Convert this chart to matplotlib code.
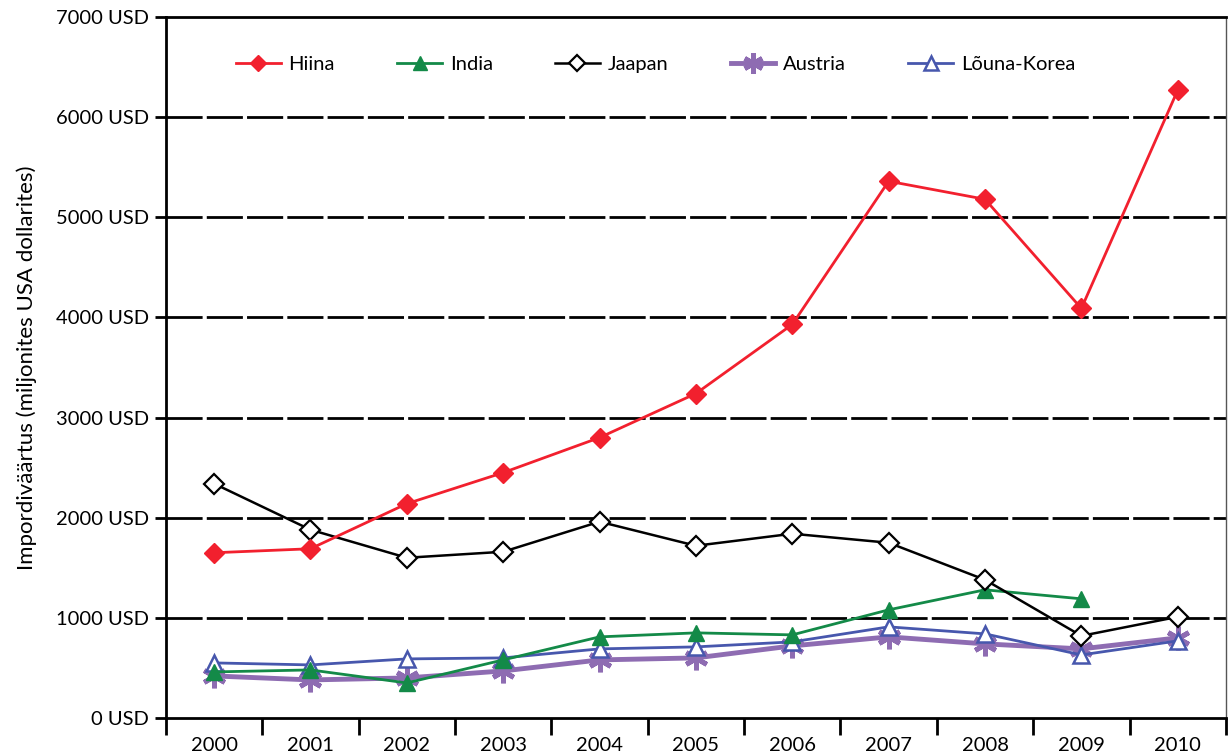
import numpy as np
import matplotlib
matplotlib.use("Agg")
from matplotlib import pyplot as plt

plt.rcParams['font.family'] = ['Lato', 'DejaVu Sans']

years = ['2000', '2001', '2002', '2003', '2004', '2005', '2006', '2007', '2008', '2009', '2010']
hiina = [1650, 1690, 2140, 2450, 2800, 3240, 3930, 5360, 5180, 4090, 6270]
india = [460, 480, 350, 580, 810, 850, 830, 1080, 1280, 1190, np.nan]
jaapan = [2340, 1880, 1600, 1660, 1960, 1720, 1840, 1750, 1380, 820, 1010]
austria = [420, 380, 400, 470, 580, 600, 720, 810, 740, 690, 800]
korea = [550, 530, 590, 600, 690, 710, 760, 910, 840, 630, 770]
yticks = [0, 1000, 2000, 3000, 4000, 5000, 6000, 7000]
ylabel = 'Impordiväärtus (miljonites USA dollarites)'

fig = plt.figure(figsize=(12.29, 7.53), dpi=100)
ax = fig.add_axes([0.135, 0.0465, 0.8625, 0.9309])

x = np.arange(len(years))

ax.plot(x, hiina, color='#F2202E', lw=2, marker='D', ms=10, mfc='#F2202E', mec='#F2202E', label='Hiina', zorder=5)
ax.plot(x, india, color='#138A48', lw=2, marker='^', ms=12, mfc='#138A48', mec='#138A48', label='India', zorder=4)
ax.plot(x, jaapan, color='black', lw=1.8, marker='D', ms=10, mfc='white', mec='black', mew=1.6, label='Jaapan', zorder=4)
ax.plot(x, austria, color='#8E6CB2', lw=3.5, marker=(6, 2, 0), ms=17, mec='#8E6CB2', mew=3.5, label='Austria', zorder=3)
ax.plot(x, korea, color='#4757AD', lw=2, marker='^', ms=12, mfc='white', mec='#4757AD', mew=1.8, label='Lõuna-Korea', zorder=3)

ax.set_xlim(-0.5, 10.5)
ax.set_ylim(0, 7000)
ax.set_yticks(yticks)
ax.set_yticklabels([f'{v} USD' for v in yticks], fontsize=14.5)
ax.set_xticks(x)
ax.set_xticklabels(years, fontsize=14.5)
ax.set_xticks(np.arange(-0.5, 10.6, 1), minor=True)
ax.tick_params(axis='x', which='major', length=0, pad=14)
ax.tick_params(axis='x', which='minor', length=12, width=2, color='black', direction='out')
ax.tick_params(axis='y', length=8, width=2, color='black', direction='out', pad=4)

for v in yticks[1:-1]:
    ax.axhline(v, color='black', lw=2, dashes=(13, 1.5), zorder=1)

ax.spines['left'].set_linewidth(2)
ax.spines['bottom'].set_linewidth(2)
ax.spines['top'].set_linewidth(2)
ax.spines['right'].set_linewidth(1)
ax.spines['right'].set_color('#555555')

ax.set_ylabel(ylabel, fontsize=16, labelpad=14)

ax.legend(loc='center', bbox_to_anchor=(0.462, 0.932), ncol=5, frameon=False, fontsize=14.5,
          handlelength=2.2, columnspacing=3.1, handletextpad=0.4, markerscale=0.85)

fig.savefig('out.png', dpi=100)
